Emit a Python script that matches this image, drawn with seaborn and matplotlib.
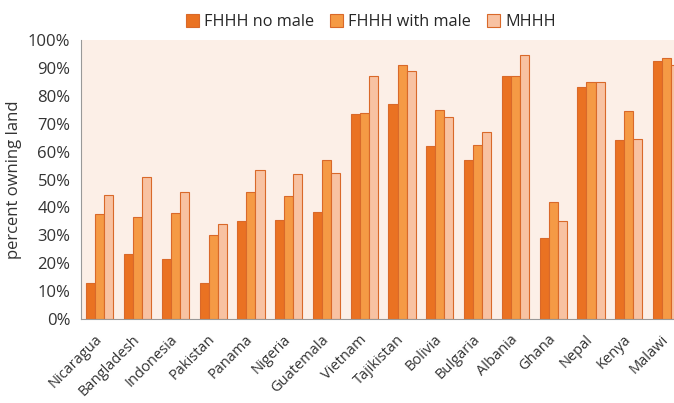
import matplotlib
matplotlib.use("Agg")
import matplotlib.pyplot as plt
import seaborn as sns
import pandas as pd
import numpy as np
from matplotlib.ticker import PercentFormatter, FixedLocator

countries = ["Nicaragua", "Bangladesh", "Indonesia", "Pakistan", "Panama", "Nigeria",
             "Guatemala", "Vietnam", "Tajikistan", "Bolivia", "Bulgaria", "Albania",
             "Ghana", "Nepal", "Kenya", "Malawi"]
fhhh_no_male = [13, 23.5, 21.5, 13, 35, 35.5, 38.5, 73.5, 77, 62, 57, 87, 29, 83, 64, 92.5]
fhhh_with_male = [37.5, 36.5, 38, 30, 45.5, 44, 57, 74, 91, 75, 62.5, 87, 42, 85, 74.5, 93.5]
mhhh = [44.5, 51, 45.5, 34, 53.5, 52, 52.5, 87, 89, 72.5, 67, 94.5, 35, 85, 64.5, 91]
series = ["FHHH no male", "FHHH with male", "MHHH"]
colors = ["#ea7222", "#f59a45", "#f8c2a2"]

df = pd.concat([
    pd.DataFrame({"country": countries, "group": name, "value": vals})
    for name, vals in zip(series, [fhhh_no_male, fhhh_with_male, mhhh])
])

sns.set_style("white")
plt.rcParams['font.family'] = ['Open Sans', 'DejaVu Sans']

fig = plt.figure(figsize=(6.74, 4.03), dpi=100)
ax = fig.add_axes([0.120, 0.208, 0.897, 0.693])
ax.set_facecolor("#fcefe7")

sns.barplot(data=df, x="country", y="value", hue="group", palette=colors,
            width=0.72, gap=0, edgecolor="#d9692a", linewidth=0.8, ax=ax,
            saturation=1)

ax.set_ylim(0, 100)
ax.set_xlim(-0.5, len(countries) - 0.5)
ax.yaxis.set_major_locator(FixedLocator(np.arange(0, 101, 10)))
ax.yaxis.set_major_formatter(PercentFormatter(decimals=0))
ax.tick_params(axis="y", labelsize=12, colors="#333333", length=4, color="#999999")
ax.set_ylabel("percent owning land", fontsize=12, color="#333333")
ax.set_xlabel("")

ax.set_xticks(range(len(countries)))
ax.set_xticklabels(countries, rotation=45, ha="right", va="center",
                   rotation_mode="anchor", fontsize=10.5, color="#333333")
ax.tick_params(axis="x", which="major", length=0, pad=13)
ax.set_xticks(np.arange(-0.5, len(countries), 1), minor=True)
ax.tick_params(axis="x", which="minor", length=5, color="#999999")

for s in ["top", "right"]:
    ax.spines[s].set_visible(False)
for s in ["left", "bottom"]:
    ax.spines[s].set_color("#999999")

ax.legend(title=None, loc="lower center", bbox_to_anchor=(0.48, 1.0), ncol=3,
          frameon=False, fontsize=11.7, handlelength=0.8, handleheight=0.8,
          handletextpad=0.3, columnspacing=1.0, borderaxespad=0.2)

fig.savefig("out.png", dpi=100)
